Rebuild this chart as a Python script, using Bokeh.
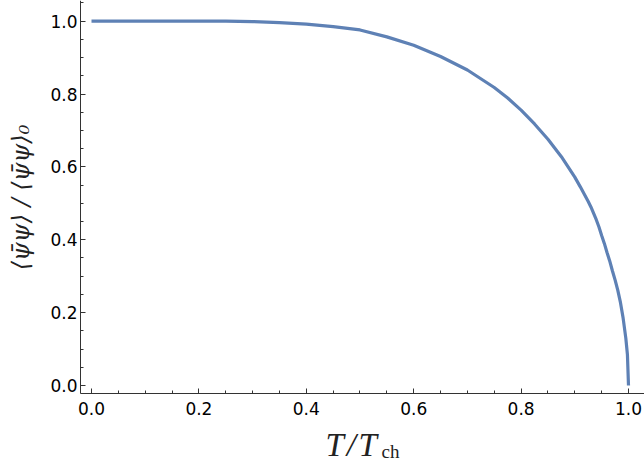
import math
from bokeh.plotting import figure
from bokeh.models import Range1d, SingleIntervalTicker, PrintfTickFormatter, Label
from bokeh.embed import file_html
from bokeh.resources import INLINE

# T / T_ch
t_ratio = [0.0, 0.1, 0.2, 0.25, 0.3, 0.35, 0.4, 0.45, 0.5, 0.55, 0.6, 0.65, 0.7,
           0.75, 0.775, 0.8, 0.825, 0.85, 0.875, 0.9, 0.91, 0.925, 0.93, 0.94, 0.945,
           0.95, 0.955, 0.96, 0.965, 0.97, 0.975, 0.98, 0.985, 0.99, 0.995, 0.998, 1.0]
# <psibar psi> / <psibar psi>_0
condensate = [1.0, 1.0, 1.0, 1.0, 0.999, 0.996, 0.992, 0.985, 0.976, 0.957, 0.934, 0.903, 0.866,
              0.818, 0.789, 0.756, 0.718, 0.676, 0.628, 0.572, 0.546, 0.505, 0.49, 0.455, 0.435,
              0.412, 0.39, 0.365, 0.342, 0.315, 0.29, 0.262, 0.228, 0.185, 0.13, 0.085, 0.0]

x_label_main = "T\u200a/\u200aT"
x_label_sub = "ch"
y_label = "⟨ψ̄ψ⟩ / ⟨ψ̄ψ⟩₀"

# visible axis extents
x_axis_lo, x_axis_hi = -0.0205, 1.0298
y_axis_lo, y_axis_hi = -0.021, 1.057

p = figure(width=644, height=462, output_backend="svg", toolbar_location=None,
           x_range=Range1d(-0.16946, 1.0298), y_range=Range1d(-0.21137, 1.05682),
           min_border_left=0, min_border_right=0, min_border_top=0, min_border_bottom=0)
p.outline_line_color = None
p.xgrid.visible = False
p.ygrid.visible = False
p.background_fill_color = "white"
p.border_fill_color = "white"

p.line(t_ratio, condensate, line_color="#5E81B5", line_width=3.2)

for ax in (p.xaxis[0], p.yaxis[0]):
    ax.ticker = SingleIntervalTicker(interval=0.2, num_minor_ticks=4)
    ax.formatter = PrintfTickFormatter(format="%.1f")
    ax.axis_line_color = "#333333"
    ax.major_tick_line_color = "#333333"
    ax.minor_tick_line_color = "#333333"
    ax.major_tick_in = 5
    ax.major_tick_out = 0
    ax.minor_tick_in = 3
    ax.minor_tick_out = 0
    ax.major_label_text_font = "DejaVu Sans"
    ax.major_label_text_font_size = "17px"
    ax.major_label_text_color = "black"

p.xaxis.fixed_location = y_axis_lo
p.yaxis.fixed_location = x_axis_lo
p.xaxis.bounds = (x_axis_lo, x_axis_hi)
p.yaxis.bounds = (y_axis_lo, y_axis_hi)
p.xaxis.major_label_standoff = 9
p.yaxis.major_label_standoff = 3

p.add_layout(Label(x=-0.1322, y=0.516, text=y_label, angle=math.pi / 2,
                   text_font="DejaVu Serif", text_font_style="italic", text_font_size="24px",
                   text_color="#222222", text_align="center", text_baseline="middle"))

p.add_layout(Label(x=0.4358, y=-0.162, text=x_label_main, text_font="Liberation Serif",
                   text_font_style="italic", text_font_size="33px", text_color="#222222",
                   text_align="left", text_baseline="alphabetic"))
p.add_layout(Label(x=0.540, y=-0.1800, text=x_label_sub, text_font="Liberation Serif",
                   text_font_size="19px", text_color="#222222",
                   text_align="left", text_baseline="alphabetic"))

open("out.html", "w").write(file_html(p, INLINE))
